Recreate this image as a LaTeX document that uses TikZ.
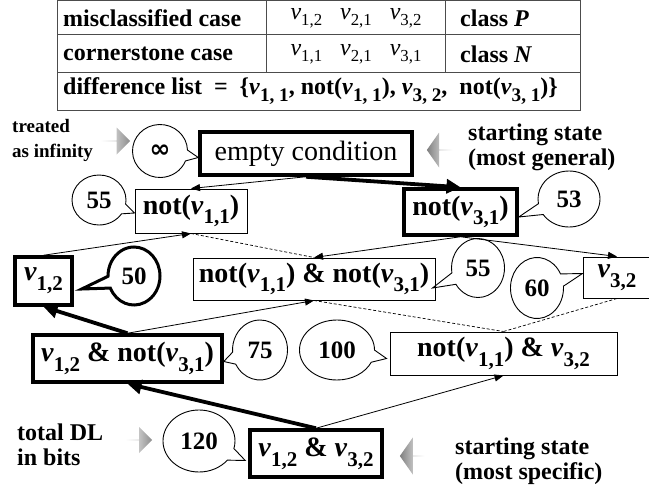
\documentclass[tikz,border=0pt]{standalone}
\usepackage{fontspec}
\setmainfont{Liberation Serif}
\newfontfamily\symfont{DejaVu Sans}
\usetikzlibrary{shapes.callouts,shapes.arrows,arrows.meta,calc}
\newcommand{\vsub}[1]{\textit{v}\raisebox{-0.35em}{\scalebox{0.75}{#1}}}
\newcommand{\vtab}[1]{\textit{v}\raisebox{-0.25em}{\scalebox{0.7}{#1}}}
\newcommand{\vdl}[1]{\textit{v}\raisebox{-0.28em}{\scalebox{0.8}{#1}}}
\begin{document}
\begin{tikzpicture}[x=1pt,y=-1pt,
  tline/.style={line width=1pt, black!70},
  tabtext/.style={anchor=west, inner sep=0pt, font=\fontsize{24}{26}\selectfont\bfseries},
  tabv/.style={inner sep=0pt, font=\fontsize{24}{26}\selectfont},
  nbox/.style={draw, rectangle, inner sep=0pt, font=\fontsize{28}{30}\selectfont\bfseries},
  thinbox/.style={nbox, line width=1pt},
  thickbox/.style={nbox, line width=3.5pt},
  bubble/.style={draw, ellipse callout, inner sep=0pt, line width=0.9pt, callout pointer arc=24, font=\fontsize{25}{27}\selectfont\bfseries},
  note/.style={align=left, anchor=west, inner sep=0pt, font=\fontsize{24}{25}\selectfont\bfseries},
  garrow/.style={single arrow, inner sep=0pt, draw=none},
  thinarrow/.style={-{Triangle[length=9pt,width=7pt]}, line width=0.8pt},
  thickarrow/.style={-{Triangle[length=14pt,width=14pt]}, line width=3.8pt},
  dashline/.style={dashed, line width=0.7pt, dash pattern=on 3pt off 2pt}
]
\useasboundingbox (0,0) rectangle (649,490);
% ---------- table ----------
\draw[tline] (57,0.5) rectangle (580,110);
\draw[tline] (57,34) -- (580,34);
\draw[tline] (57,72) -- (580,72);
\draw[tline] (266,0) -- (266,72);
\draw[tline] (445,0) -- (445,72);
\node[tabtext] (t11) at (63,18) {misclassified case};
\node[tabtext] (t21) at (63,54) {cornerstone case};
\node[tabv] (t12) at (356,18) {\vtab{1,2}\hspace{0.75em}\vtab{2,1}\hspace{0.75em}\vtab{3,2}};
\node[tabv] (t22) at (356,54) {\vtab{1,1}\hspace{0.75em}\vtab{2,1}\hspace{0.75em}\vtab{3,1}};
\node[tabtext] (t13) at (460,18) {class \textit{P}};
\node[tabtext] (t23) at (460,54) {class \textit{N}};
\node[tabtext] (t3) at (63,91) {difference list\ \ =\ \ \{\vdl{1, 1}, not(\vdl{1, 1}), \vdl{3, 2},\ \ not(\vdl{3, 1})\}};
% ---------- side notes ----------
\node[note, font=\fontsize{19}{25}\selectfont\bfseries] (treated) at (12,140) {treated\\as infinity};
\node[note] (sgen) at (468,147) {starting state\\(most general)};
\node[note] (tdl) at (17,445) {total DL\\in bits};
\node[note] (sspec) at (455,461) {starting state\\(most specific)};
\node[garrow, minimum height=30, minimum width=27, single arrow head extend=6.5, left color=white, right color=black!45] (ga1) at (115,141) {};
\node[garrow, minimum height=27, minimum width=26, single arrow head extend=6, left color=white, right color=black!45] (ga2) at (138.5,440) {};
\node[garrow, shape border rotate=180, minimum height=26, minimum width=35, single arrow head extend=8, single arrow tip angle=110, left color=black!50, right color=white] (ga3) at (440,150) {};
\node[garrow, shape border rotate=180, minimum height=25, minimum width=37, single arrow head extend=8.5, single arrow tip angle=110, left color=black!50, right color=white] (ga4) at (412.5,456) {};
% ---------- state boxes ----------
\node[thickbox, minimum width=212, minimum height=43, font=\fontsize{28}{30}\selectfont] (empty) at (306,153.5) {empty condition};
\node[thinbox, minimum width=112, minimum height=44] (nv11) at (191,211) {not(\vsub{1,1})};
\node[thickbox, minimum width=113, minimum height=46] (nv31) at (460.5,212) {not(\vsub{3,1})};
\node[thickbox, minimum width=57, minimum height=48] (v12) at (43.5,281) {\vsub{1,2}};
\node[thinbox, minimum width=242, minimum height=42] (nn) at (314,279) {not(\vsub{1,1}) \& not(\vsub{3,1})};
\node[thinbox, minimum width=68, minimum height=41] (v32) at (617,277.5) {\vsub{3,2}};
\node[thickbox, minimum width=189, minimum height=47] (v12n31) at (127.5,358.5) {\vsub{1,2} \& not(\vsub{3,1})};
\node[thinbox, minimum width=227, minimum height=43] (n11v32) at (503.5,353.5) {not(\vsub{1,1}) \& \vsub{3,2}};
\node[thickbox, minimum width=132, minimum height=47] (v12v32) at (316,453.5) {\vsub{1,2} \& \vsub{3,2}};
% ---------- callout pointer targets ----------
\coordinate (pinf) at ($(empty.west)+(0,4)$);
\coordinate (p55a) at ($(nv11.west)+(0,2)$);
\coordinate (p53) at ($(nv31.east)+(0,5)$);
\coordinate (p50) at ($(v12.east)+(8,8)$);
\coordinate (p55b) at ($(nn.east)+(-3,9)$);
\coordinate (p60) at ($(v32.west)+(0,-4)$);
\coordinate (p75) at ($(v12n31.east)+(0,3)$);
\coordinate (p100) at ($(n11v32.west)+(-3,5)$);
\coordinate (p120) at ($(v12v32.west)+(-3,7)$);
% ---------- callouts ----------
\node[bubble, minimum width=55, minimum height=53, callout absolute pointer=(pinf)] (cinf) at (160,151) {{\fontsize{25}{26}\selectfont\symfont\bfseries ∞}};
\node[bubble, minimum width=54, minimum height=50, callout absolute pointer=(p55a)] (c55a) at (99,200) {55};
\node[bubble, minimum width=62, minimum height=56, callout absolute pointer=(p53)] (c53) at (569,199) {53};
\node[bubble, line width=3pt, minimum width=52, minimum height=58, callout absolute pointer=(p50)] (c50) at (134,276) {50};
\node[bubble, minimum width=53, minimum height=59, callout absolute pointer=(p55b)] (c55b) at (478,268) {55};
\node[bubble, minimum width=53, minimum height=61, callout absolute pointer=(p60)] (c60) at (537,288) {60};
\node[bubble, minimum width=55, minimum height=60, callout absolute pointer=(p75)] (c75) at (260,350) {75};
\node[bubble, minimum width=75, minimum height=60, callout absolute pointer=(p100)] (c100) at (337,350) {100};
\node[bubble, minimum width=72, minimum height=62, callout absolute pointer=(p120)] (c120) at (199,441) {120};
% ---------- connectors ----------
\draw[thinarrow] (empty.south) -- (nv11.north);
\draw[thickarrow] (empty.south) -- (nv31.north);
\draw[thinarrow] (nv31.south) -- (nn.north);
\draw[thinarrow] (nv31.south) -- (v32.north);
\draw[thinarrow] (v12.north) -- (nv11.south);
\draw[dashline] (nv11.south) -- (nn.north);
\draw[thickarrow] (v12n31.north) -- (v12.south);
\draw[thinarrow] (v12n31.north) -- (nn.south);
\draw[dashline] (nn.south) -- (n11v32.north);
\draw[dashline] (v32.south) -- (n11v32.north);
\draw[thickarrow] (v12v32.north) -- (v12n31.south);
\draw[thinarrow] (v12v32.north) -- (n11v32.south);
\end{tikzpicture}
\end{document}
